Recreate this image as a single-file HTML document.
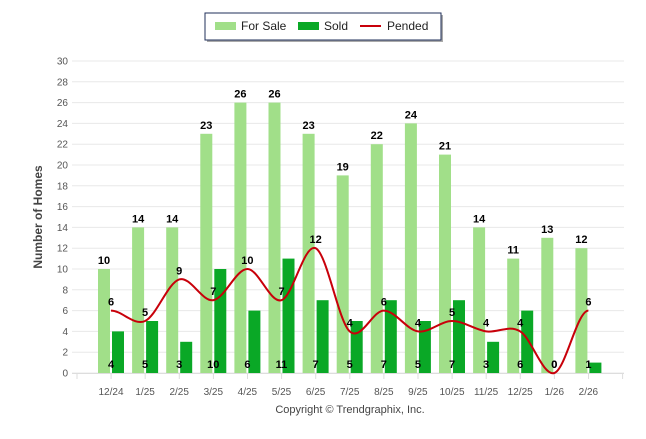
<!DOCTYPE html>
<html><head><meta charset="utf-8"><style>
body{margin:0;background:#fff;width:646px;height:434px;overflow:hidden;font-family:"Liberation Sans",sans-serif}
</style></head><body>
<svg id="s" width="646" height="434" xmlns="http://www.w3.org/2000/svg" font-family="Liberation Sans, sans-serif"></svg>
<script>
var fs=[10,14,14,23,26,26,23,19,22,24,21,14,11,13,12];
var sd=[4,5,3,10,6,11,7,5,7,5,7,3,6,0,1];
var pd=[6,5,9,7,10,7,12,4,6,4,5,4,4,0,6];
var lb=["12/24","1/25","2/25","3/25","4/25","5/25","6/25","7/25","8/25","9/25","10/25","11/25","12/25","1/26","2/26"];
var y0=373,k=10.4;function Y(v){return y0-v*k}
function X(i){return 111+i*34.1}
var h='';
for(var v=0;v<=30;v+=2){h+='<line x1="72" x2="624" y1="'+Y(v)+'" y2="'+Y(v)+'" stroke="#e8e8e8"/>';
h+='<text x="68" y="'+(Y(v)+3.5)+'" font-size="10" fill="#555" text-anchor="end">'+v+'</text>';}
h+='<line x1="72" x2="624" y1="373.5" y2="373.5" stroke="#ddd"/>';
for(var i=0;i<=16;i++){var tx=77+i*34.1;h+='<line x1="'+tx+'" x2="'+tx+'" y1="374" y2="379" stroke="#ddd"/>';}
for(var i=0;i<15;i++){var x=X(i);
h+='<rect x="'+(x-13)+'" y="'+Y(fs[i])+'" width="12" height="'+fs[i]*k+'" fill="#a1df89"/>';
h+='<rect x="'+(x+1)+'" y="'+Y(sd[i])+'" width="12" height="'+sd[i]*k+'" fill="#0aa826"/>';
h+='<text x="'+(x-7)+'" y="'+(Y(fs[i])-5)+'" font-size="11" font-weight="bold" text-anchor="middle">'+fs[i]+'</text>';
h+='<text x="'+x+'" y="395" font-size="10" fill="#555" text-anchor="middle">'+lb[i]+'</text>';}
var p='M'+X(0)+','+Y(pd[0]);
for(var i=0;i<14;i++){var x0=X(i),x1=X(i+1),a=Y(pd[i]),b=Y(pd[i+1]);
var pa=i>0?Y(pd[i-1]):a,nb=i<13?Y(pd[i+2]):b;
var t1=(i>0?(b-pa)/2:(b-a))*0.0, t2=0;
var s1=i>0?(b-pa)/(2*34.1):0, s2=i<13?(nb-a)/(2*34.1):0;
var c=34.1/3;
p+=' C'+(x0+c)+','+(a+s1*c)+' '+(x1-c)+','+(b-s2*c)+' '+x1+','+b;}
h+='<path d="'+p+'" fill="none" stroke="#c8000a" stroke-width="2"/>';
for(var i=0;i<15;i++){var x=X(i);
h+='<text x="'+x+'" y="'+(Y(pd[i])-5)+'" font-size="11" font-weight="bold" text-anchor="middle">'+pd[i]+'</text>';
h+='<text x="'+x+'" y="368" font-size="11" font-weight="bold" text-anchor="middle">'+sd[i]+'</text>';}
h+='<text transform="translate(42,217) rotate(-90)" font-size="12" font-weight="bold" fill="#444" text-anchor="middle">Number of Homes</text>';
h+='<text x="350" y="413" font-size="11" fill="#444" text-anchor="middle">Copyright © Trendgraphix, Inc.</text>';
h+='<rect x="207" y="15" width="236" height="27" fill="#aaa"/><rect x="205" y="13" width="236" height="27" fill="#fff" stroke="#1f2f5a"/>';
h+='<rect x="215" y="22" width="21" height="8" fill="#a1df89"/><text x="241" y="30" font-size="12" fill="#222">For Sale</text>';
h+='<rect x="298" y="22" width="21" height="8" fill="#0aa826"/><text x="324" y="30" font-size="12" fill="#222">Sold</text>';
h+='<line x1="360" x2="381" y1="26" y2="26" stroke="#c8000a" stroke-width="2"/><text x="387" y="30" font-size="12" fill="#222">Pended</text>';
document.getElementById('s').innerHTML=h;
</script>
</body></html>
